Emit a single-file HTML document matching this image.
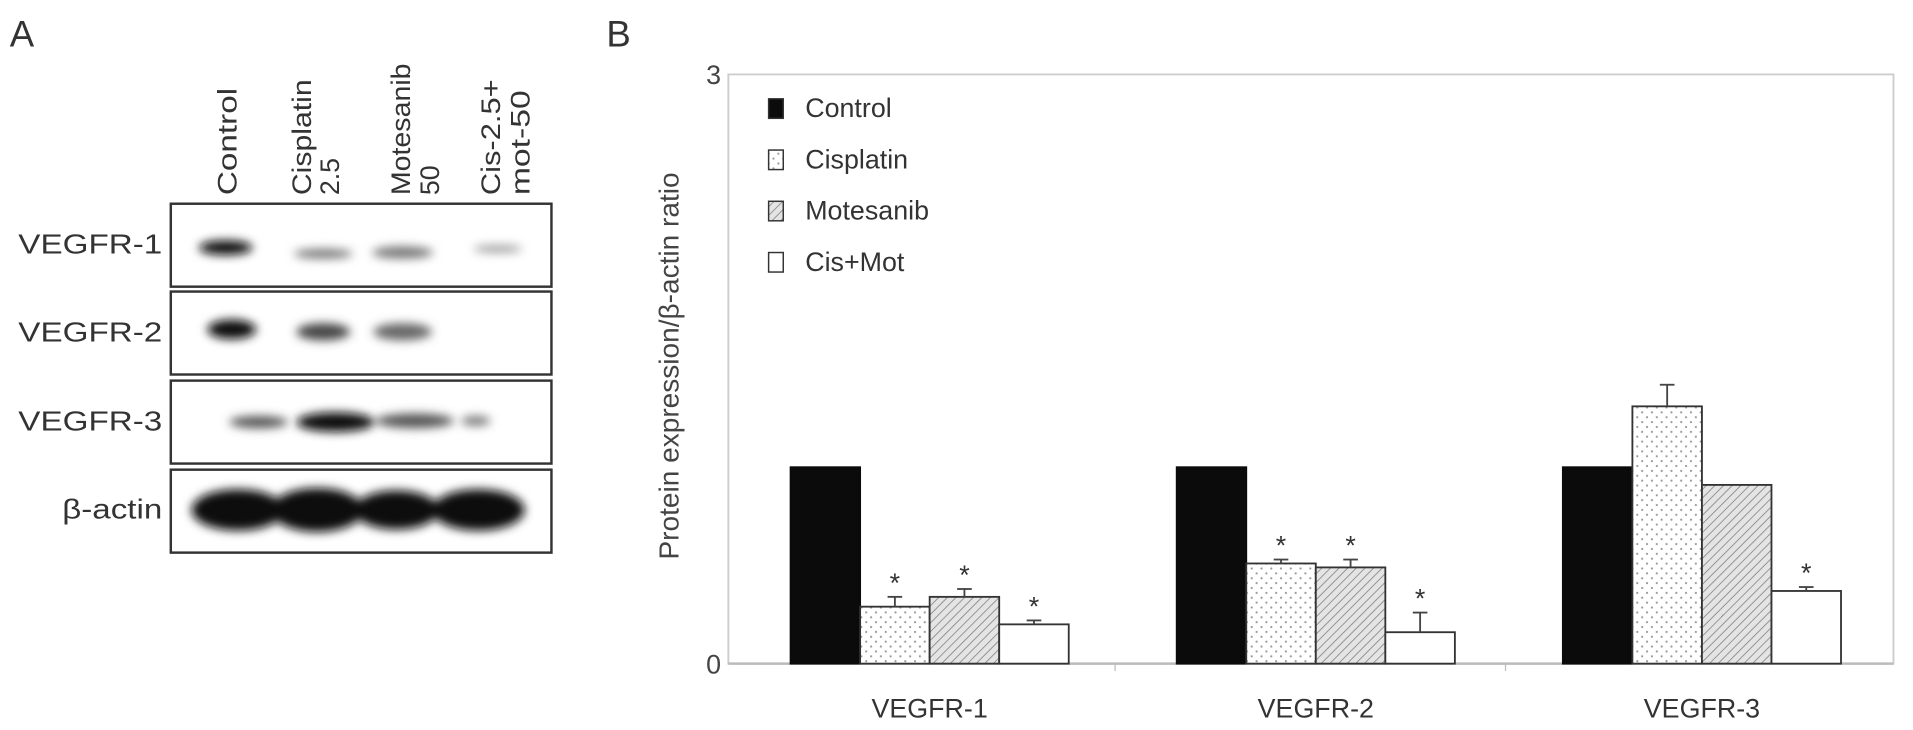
<!DOCTYPE html>
<html><head><meta charset="utf-8"><style>
html,body{margin:0;padding:0;background:#fff;}
svg{display:block;font-family:"Liberation Sans",sans-serif;}
</style></head><body>
<svg id="fig" width="1913" height="730" viewBox="0 0 1568 598.4" preserveAspectRatio="none" xmlns="http://www.w3.org/2000/svg">
<defs>
<pattern id="dots" width="8" height="8" patternUnits="userSpaceOnUse"><rect width="8" height="8" fill="#fff"/><circle cx="2" cy="2" r="0.9" fill="#999"/><circle cx="6" cy="6" r="0.9" fill="#999"/></pattern>
<pattern id="hatch" width="5" height="5" patternUnits="userSpaceOnUse" patternTransform="rotate(45)"><rect width="5" height="5" fill="#e4e4e4"/><line x1="0" y1="0" x2="0" y2="5" stroke="#888" stroke-width="1.4"/></pattern>
<filter id="blur" x="-30%" y="-100%" width="160%" height="300%"><feGaussianBlur stdDeviation="4"/></filter>
</defs>
<text x="8" y="38" font-size="30" fill="#333">A</text>
<text x="497" y="38" font-size="30" fill="#333">B</text>
<g font-size="22" fill="#333">
<text transform="translate(194,160) rotate(-90)" textLength="88" lengthAdjust="spacingAndGlyphs">Control</text>
<text transform="translate(255,160) rotate(-90)" textLength="95" lengthAdjust="spacingAndGlyphs">Cisplatin</text>
<text transform="translate(278,160) rotate(-90)">2.5</text>
<text transform="translate(336,160) rotate(-90)" textLength="108" lengthAdjust="spacingAndGlyphs">Motesanib</text>
<text transform="translate(360,160) rotate(-90)">50</text>
<text transform="translate(410,160) rotate(-90)" textLength="95" lengthAdjust="spacingAndGlyphs">Cis-2.5+</text>
<text transform="translate(434,160) rotate(-90)" textLength="86" lengthAdjust="spacingAndGlyphs">mot-50</text>
</g>
<g>
<rect x="140" y="167" width="312" height="68" fill="#fff" stroke="#333" stroke-width="2"/>
<rect x="140" y="239" width="312" height="68" fill="#fff" stroke="#333" stroke-width="2"/>
<rect x="140" y="312" width="312" height="68" fill="#fff" stroke="#333" stroke-width="2"/>
<rect x="140" y="385" width="312" height="68" fill="#fff" stroke="#333" stroke-width="2"/>
<g filter="url(#blur)">
<ellipse cx="185" cy="203" rx="22" ry="6" fill="#111"/>
<ellipse cx="265" cy="208" rx="24" ry="4" fill="#777"/>
<ellipse cx="330" cy="207" rx="25" ry="5" fill="#777"/>
<ellipse cx="408" cy="204" rx="20" ry="3" fill="#999"/>
<ellipse cx="190" cy="270" rx="20" ry="8" fill="#111"/>
<ellipse cx="265" cy="272" rx="22" ry="7" fill="#444"/>
<ellipse cx="330" cy="272" rx="24" ry="7" fill="#666"/>
<ellipse cx="212" cy="346" rx="24" ry="5" fill="#555"/>
<ellipse cx="275" cy="346" rx="32" ry="8" fill="#111"/>
<ellipse cx="340" cy="345" rx="32" ry="6" fill="#555"/>
<ellipse cx="390" cy="345" rx="12" ry="4" fill="#777"/>
<ellipse cx="195" cy="418" rx="38" ry="17" fill="#111"/>
<ellipse cx="260" cy="418" rx="38" ry="18" fill="#111"/>
<ellipse cx="325" cy="418" rx="35" ry="16" fill="#111"/>
<ellipse cx="392" cy="418" rx="38" ry="17" fill="#111"/>
</g>
</g>
<g font-size="23" fill="#333" text-anchor="end">
<text x="133" y="208" textLength="118" lengthAdjust="spacingAndGlyphs">VEGFR-1</text>
<text x="133" y="280" textLength="118" lengthAdjust="spacingAndGlyphs">VEGFR-2</text>
<text x="133" y="353" textLength="118" lengthAdjust="spacingAndGlyphs">VEGFR-3</text>
<text x="133" y="425" textLength="82" lengthAdjust="spacingAndGlyphs">β-actin</text>
</g>
<g id="chart"></g>
</svg>
<script>
const categories = ["VEGFR-1","VEGFR-2","VEGFR-3"];
const seriesNames = ["Control","Cisplatin","Motesanib","Cis+Mot"];
const controlVals = [1,1,1];
const cisplatinVals = [0.29,0.51,1.31];
const motesanibVals = [0.34,0.49,0.91];
const cisMotVals = [0.2,0.16,0.37];
const controlErr = [0,0,0];
const cisplatinErr = [0.05,0.02,0.11];
const motesanibErr = [0.04,0.04,0];
const cisMotErr = [0.02,0.1,0.02];
const significant = [[false,true,true,true],[false,true,true,true],[false,false,false,true]];
const yTicks = [0,3];

const NS="http://www.w3.org/2000/svg";
const g=document.getElementById('chart');
const L=597,R=1552,T=61,B=544,yMax=3;
const y=v=>B-(v/yMax)*(B-T);
const groupStart=i=>648+i*316.5, bw=57;
const fills=["#0b0b0b","url(#dots)","url(#hatch)","#fff"];
const vals=[controlVals,cisplatinVals,motesanibVals,cisMotVals];
const errs=[controlErr,cisplatinErr,motesanibErr,cisMotErr];
function mk(t,a,p){const e=document.createElementNS(NS,t);for(const k in a)e.setAttribute(k,a[k]);(p||g).appendChild(e);return e;}
let e=mk('rect',{x:L,y:T,width:R-L,height:B-T,fill:'none',stroke:'#ccc','stroke-width':1.5});


e=mk('line',{x1:L,y1:B,x2:R,y2:B,stroke:'#bbb','stroke-width':2});


[914,1234].forEach(x=>{mk('line',{x1:x,y1:B,x2:x,y2:B+6,stroke:'#bbb'});});
yTicks.forEach(t=>{const tx=mk('text',{x:L-6,y:y(t)+8,'font-size':22,fill:'#444','text-anchor':'end'});tx.textContent=t;

});
e=mk('text',{transform:'translate(556,300) rotate(-90)','font-size':23,fill:'#444','text-anchor':'middle'});
e.textContent='Protein expression/β-actin ratio';


categories.forEach((c,i)=>{
 const x0=groupStart(i);
 vals.forEach((s,j)=>{
  const bx=x0+j*bw, v=s[i];
  const r=mk('rect',{x:bx,y:y(v),width:bw,height:B-y(v),fill:fills[j],stroke:j==0?'#0b0b0b':'#333','stroke-width':1.5});
  
  
  const er=errs[j][i]; let top=y(v);
  if(er>0){const cx=bx+bw/2; top=y(v+er);
   mk('line',{x1:cx,y1:y(v),x2:cx,y2:top,stroke:'#444','stroke-width':1.5});
   mk('line',{x1:cx-6,y1:top,x2:cx+6,y2:top,stroke:'#444','stroke-width':1.5});}
  if(significant[i][j]){const st=mk('text',{x:bx+bw/2,y:top-4,'font-size':22,fill:'#333','text-anchor':'middle'});st.textContent='*';
   
   }
 });
 const lb=mk('text',{x:x0+2*bw,y:588,'font-size':22,fill:'#333','text-anchor':'middle'});lb.textContent=c;
 
 
});
seriesNames.forEach((n,j)=>{
 const yy=90+j*42;
 const sq=mk('rect',{x:630,y:yy-9,width:12,height:16,fill:fills[j],stroke:'#333','stroke-width':1.2});
 
 
 const t=mk('text',{x:660,y:yy+6,'font-size':22,fill:'#333'});t.textContent=n;
 
 
});
</script>
</body></html>
